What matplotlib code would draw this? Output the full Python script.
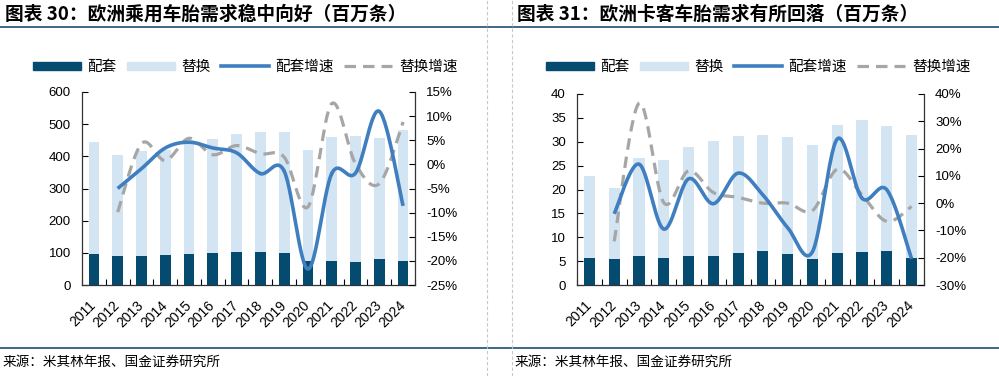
#!/usr/bin/env python3

import numpy as np
import matplotlib
matplotlib.use('Agg')
import matplotlib.pyplot as plt
from matplotlib.lines import Line2D
from matplotlib.patches import Patch
from matplotlib.ticker import FuncFormatter

plt.rcParams['font.family'] = ['Liberation Sans', 'Noto Sans CJK SC']
plt.rcParams['axes.unicode_minus'] = False

years = [str(y) for y in range(2011, 2025)]

# 欧洲乘用车胎 (百万条)
pc_oe = [97, 91, 90, 93, 97, 101, 103, 102, 99, 75, 74, 73, 81, 74]
pc_total = [445, 405, 417, 420, 450, 453, 468, 476, 476, 419, 459, 462, 456, 481]
pc_oe_growth = [None, -5.0, -0.9, 3.4, 4.6, 3.4, 2.4, -1.9, -1.4, -21.7, -1.9, -1.8, 11.0, -8.6]
pc_rep_growth = [None, -9.9, 4.3, 0.8, 5.4, 2.0, 3.9, 2.2, 1.5, -8.8, 12.6, 0.1, -4.0, 8.8]

# 欧洲卡客车胎 (百万条)
tb_oe = [5.6, 5.4, 6.15, 5.6, 6.1, 6.1, 6.8, 7.1, 6.5, 5.4, 6.7, 6.9, 7.1, 5.7]
tb_total = [22.8, 20.3, 26.5, 26.1, 29.0, 30.2, 31.3, 31.5, 31.0, 29.4, 33.6, 34.6, 33.2, 31.5]
tb_oe_growth = [None, -3.9, 14.3, -9.5, 8.9, -0.2, 11.0, 3.0, -9.0, -17.8, 23.5, 1.8, 4.9, -20.4]
tb_rep_growth = [None, -14.0, 36.6, 0.2, 11.8, 3.9, 2.1, 0.0, 0.0, -2.7, 12.4, 3.0, -6.7, -1.2]

DARK = '#044B6F'
LIGHT = '#D3E4F3'
BLUE = '#3F7FC0'
GREY = '#A6A6A6'
NAVY = '#1F4E6E'


def smooth(xs, ys, n=30):
    # catmull-rom, roughly what excel does for "smoothed line"
    pts = np.column_stack([xs, ys]).astype(float)
    p = np.vstack([pts[0], pts, pts[-1]])
    out = []
    for i in range(1, len(p) - 2):
        p0, p1, p2, p3 = p[i - 1], p[i], p[i + 1], p[i + 2]
        t = np.linspace(0, 1, n)[:, None]
        seg = 0.5 * ((2 * p1) + (-p0 + p2) * t + (2 * p0 - 5 * p1 + 4 * p2 - p3) * t ** 2
                     + (-p0 + 3 * p1 - 3 * p2 + p3) * t ** 3)
        out.append(seg)
    out = np.vstack(out)
    return out[:, 0], out[:, 1]


def panel(fig, rect, oe, total, oe_g, rep_g, ylim, ystep, rlim, rstep):
    ax = fig.add_axes(rect)
    x = np.arange(len(years))
    rep = [t - o for t, o in zip(total, oe)]
    ax.bar(x, oe, width=0.45, color=DARK, zorder=2)
    ax.bar(x, rep, width=0.45, bottom=oe, color=LIGHT, zorder=2)
    ax.set_xlim(-0.5, len(years) - 0.5)
    ax.set_ylim(*ylim)
    ax.set_yticks(np.arange(ylim[0], ylim[1] + ystep / 2, ystep))
    ax.set_xticks(x)
    ax.set_xticklabels(years, rotation=45, ha='right', va='center',
                       rotation_mode='anchor', fontsize=10)
    ax.set_xticks(np.arange(-0.5, len(years), 1), minor=True)
    ax.tick_params(axis='x', which='major', length=0, pad=13)
    ax.tick_params(axis='x', which='minor', length=4, direction='in', width=0.8)
    ax.tick_params(axis='y', length=4, direction='in', labelsize=9.5, pad=8, width=0.8)
    for s in ['top', 'right']:
        ax.spines[s].set_visible(False)
    for s in ['left', 'bottom']:
        ax.spines[s].set_color('#333333')
        ax.spines[s].set_linewidth(0.9)

    ax2 = ax.twinx()
    gx = x[1:]
    sx, sy = smooth(gx, rep_g[1:])
    ax2.plot(sx, sy, color=GREY, lw=2.3, dashes=(3.6, 2.2), zorder=3)
    sx, sy = smooth(gx, oe_g[1:])
    ax2.plot(sx, sy, color=BLUE, lw=2.6, zorder=4, solid_capstyle='butt')
    ax2.set_ylim(*rlim)
    ax2.set_yticks(np.arange(rlim[0], rlim[1] + rstep / 2, rstep))
    ax2.yaxis.set_major_formatter(FuncFormatter(lambda v, p: '%d%%' % round(v)))
    ax2.tick_params(axis='y', length=4, direction='in', labelsize=9.5, pad=8, width=0.8)
    for s in ['top', 'left', 'bottom']:
        ax2.spines[s].set_visible(False)
    ax2.spines['right'].set_color('#333333')
    ax2.spines['right'].set_linewidth(0.9)
    return ax


def legend(fig, cx):
    handles = [Patch(color=DARK), Patch(color=LIGHT),
               Line2D([], [], color=BLUE, lw=2.6),
               Line2D([], [], color=GREY, lw=2.3, dashes=(3.6, 2.2))]
    labels = ['配套', '替换', '配套增速', '替换增速']
    fig.legend(handles, labels, loc='center', bbox_to_anchor=(cx, 1 - 67 / 376),
               ncol=4, frameon=False, fontsize=10.5, handlelength=3.3,
               handleheight=0.5, handletextpad=0.45, columnspacing=0.7,
               borderaxespad=0, borderpad=0)


def main():
    fig = plt.figure(figsize=(9.99, 3.76), dpi=100)
    W, H = 999, 376

    panel(fig, [82 / W, 1 - 285 / H, 333 / W, 193 / H],
          pc_oe, pc_total, pc_oe_growth, pc_rep_growth,
          (0, 600), 100, (-25, 15), 5)
    panel(fig, [577 / W, 1 - 285 / H, 347 / W, 191 / H],
          tb_oe, tb_total, tb_oe_growth, tb_rep_growth,
          (0, 40), 5, (-30, 40), 10)
    legend(fig, 245 / W)
    legend(fig, 758 / W)

    # titles and source
    fig.text(5 / W, 1 - 14 / H, '图表 30：欧洲乘用车胎需求稳中向好（百万条）',
             fontsize=13.5, fontweight='bold', va='center', ha='left',
             family=['Noto Sans CJK SC'])
    fig.text(517 / W, 1 - 14 / H, '图表 31：欧洲卡客车胎需求有所回落（百万条）',
             fontsize=13.5, fontweight='bold', va='center', ha='left',
             family=['Noto Sans CJK SC'])
    fig.text(3 / W, 1 - 362 / H, '来源：米其林年报、国金证券研究所',
             fontsize=9.8, va='center', ha='left', family=['Noto Sans CJK SC'])
    fig.text(515 / W, 1 - 362 / H, '来源：米其林年报、国金证券研究所',
             fontsize=9.8, va='center', ha='left', family=['Noto Sans CJK SC'])

    # frame lines
    for yy in [27, 348]:
        fig.add_artist(Line2D([0, 1], [1 - yy / H] * 2, color=NAVY, lw=1.2))
    for xx in [487, 512]:
        fig.add_artist(Line2D([xx / W] * 2, [0, 1], color='#C8C8C8', lw=0.8,
                              linestyle=(0, (3, 2))))

    fig.savefig('out.png', dpi=100)


if __name__ == '__main__':
    main()
